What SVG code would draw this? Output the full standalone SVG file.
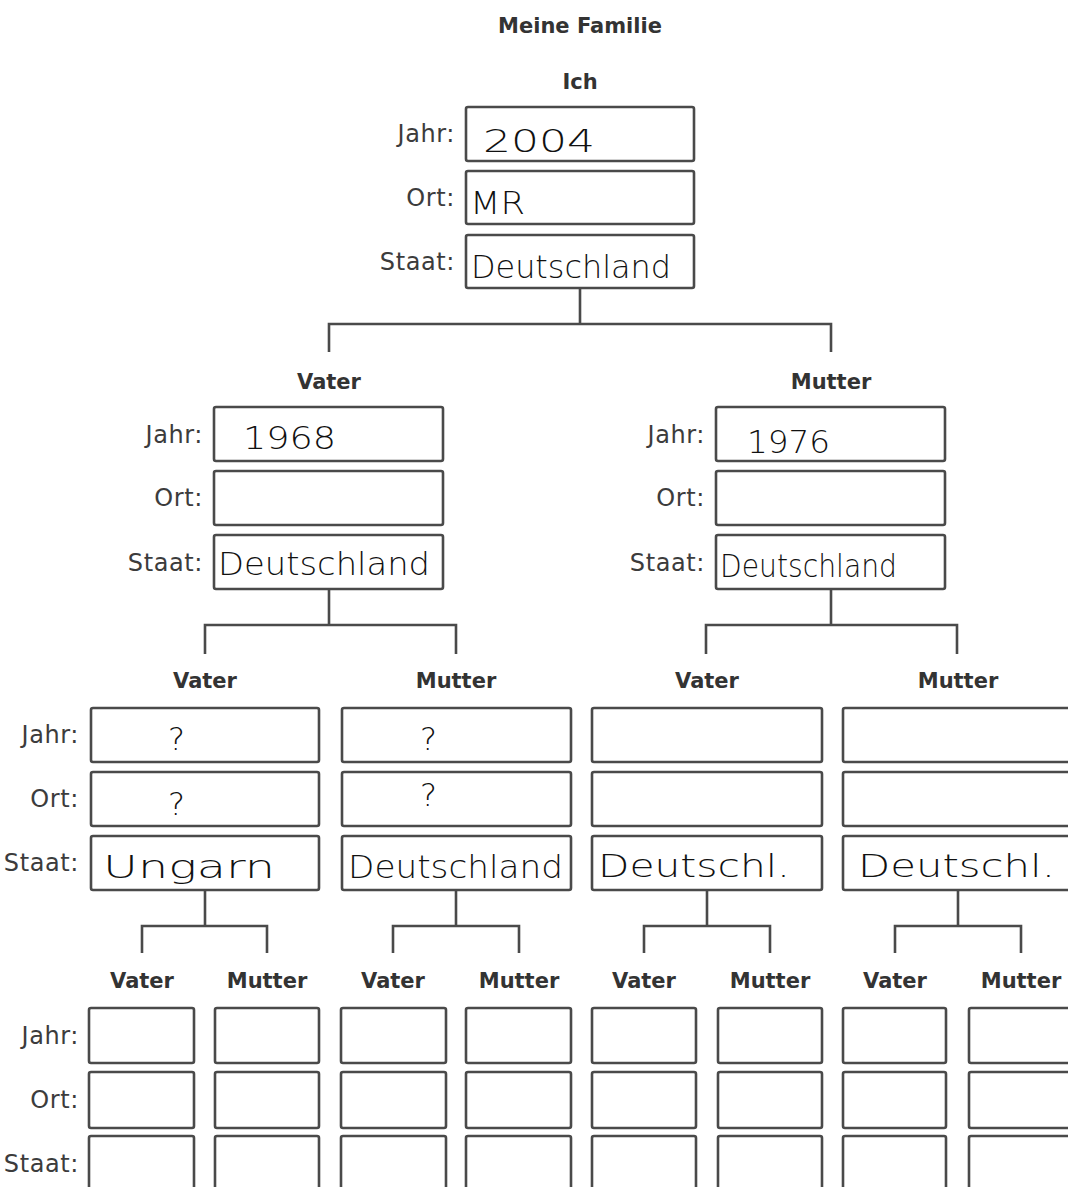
<svg xmlns="http://www.w3.org/2000/svg" width="1068" height="1187" viewBox="0 0 1068 1187">
<style>
.bx{fill:#fff;stroke:#4a4a4a;stroke-width:2.6}
.t{font-family:"DejaVu Sans","Liberation Sans",sans-serif;font-weight:bold;font-size:21px;fill:#333;text-anchor:middle}
.l{font-family:"DejaVu Sans","Liberation Sans",sans-serif;font-size:24px;letter-spacing:0.6px;fill:#3c3c3c;text-anchor:end}
.h{font-family:"DejaVu Sans","Liberation Sans",sans-serif;font-weight:200;font-size:32px;fill:#111}
.c{fill:none;stroke:#4a4a4a;stroke-width:2.6}
</style>
<rect width="1068" height="1187" fill="#fff"/>
<text class="t" x="580" y="33">Meine Familie</text>

<g id="connectors">
<path class="c" d="M580 288V324M329 352V324H831V352"/>
<path class="c" d="M329 589V625M205 654V625H456V654"/>
<path class="c" d="M831 589V625M706 654V625H957V654"/>
<path class="c" d="M205 890V926M142 953V926H267V953"/>
<path class="c" d="M456 890V926M393 953V926H519V953"/>
<path class="c" d="M707 890V926M644 953V926H770V953"/>
<path class="c" d="M958 890V926M895 953V926H1021V953"/>
</g>

<g id="ich">
<text class="t" x="580" y="89">Ich</text>
<text class="l" x="455" y="142">Jahr:</text>
<text class="l" x="455" y="206">Ort:</text>
<text class="l" x="455" y="270">Staat:</text>
<rect class="bx" x="466" y="107" width="228" height="54" rx="2"/>
<rect class="bx" x="466" y="171" width="228" height="53" rx="2"/>
<rect class="bx" x="466" y="235" width="228" height="53" rx="2"/>
<text class="h" x="483" y="152" textLength="112" lengthAdjust="spacingAndGlyphs" font-size="38">2004</text>
<text class="h" x="470" y="214" textLength="55" lengthAdjust="spacingAndGlyphs">MR</text>
<text class="h" x="471" y="278" textLength="200" lengthAdjust="spacingAndGlyphs">Deutschland</text>
</g>

<g id="vater">
<text class="t" x="329" y="389">Vater</text>
<text class="l" x="203" y="443">Jahr:</text>
<text class="l" x="203" y="506">Ort:</text>
<text class="l" x="203" y="571">Staat:</text>
<rect class="bx" x="214" y="407" width="229" height="54" rx="2"/>
<rect class="bx" x="214" y="471" width="229" height="54" rx="2"/>
<rect class="bx" x="214" y="535" width="229" height="54" rx="2"/>
<text class="h" x="243" y="449" textLength="93" lengthAdjust="spacingAndGlyphs">1968</text>
<text class="h" x="218" y="575" textLength="212" lengthAdjust="spacingAndGlyphs">Deutschland</text>
</g>

<g id="mutter">
<text class="t" x="831" y="389">Mutter</text>
<text class="l" x="705" y="443">Jahr:</text>
<text class="l" x="705" y="506">Ort:</text>
<text class="l" x="705" y="571">Staat:</text>
<rect class="bx" x="716" y="407" width="229" height="54" rx="2"/>
<rect class="bx" x="716" y="471" width="229" height="54" rx="2"/>
<rect class="bx" x="716" y="535" width="229" height="54" rx="2"/>
<text class="h" x="747" y="453" textLength="83" lengthAdjust="spacingAndGlyphs">1976</text>
<text class="h" x="720" y="577" textLength="177" lengthAdjust="spacingAndGlyphs">Deutschland</text>
</g>

<g id="labels-l2">
<text class="l" x="79" y="743">Jahr:</text>
<text class="l" x="79" y="807">Ort:</text>
<text class="l" x="79" y="871">Staat:</text>
</g>

<g id="vater-vater">
<text class="t" x="205" y="688">Vater</text>
<rect class="bx" x="91" y="708" width="228" height="54" rx="2"/>
<rect class="bx" x="91" y="772" width="228" height="54" rx="2"/>
<rect class="bx" x="91" y="836" width="228" height="54" rx="2"/>
<text class="h" x="168" y="750">?</text>
<text class="h" x="168" y="815">?</text>
<text class="h" x="103" y="878" textLength="172" lengthAdjust="spacingAndGlyphs">Ungarn</text>
</g>

<g id="vater-mutter">
<text class="t" x="456" y="688">Mutter</text>
<rect class="bx" x="342" y="708" width="229" height="54" rx="2"/>
<rect class="bx" x="342" y="772" width="229" height="54" rx="2"/>
<rect class="bx" x="342" y="836" width="229" height="54" rx="2"/>
<text class="h" x="420" y="750">?</text>
<text class="h" x="420" y="806">?</text>
<text class="h" x="348" y="878" textLength="215" lengthAdjust="spacingAndGlyphs">Deutschland</text>
</g>

<g id="mutter-vater">
<text class="t" x="707" y="688">Vater</text>
<rect class="bx" x="592" y="708" width="230" height="54" rx="2"/>
<rect class="bx" x="592" y="772" width="230" height="54" rx="2"/>
<rect class="bx" x="592" y="836" width="230" height="54" rx="2"/>
<text class="h" x="598" y="877" textLength="192" lengthAdjust="spacingAndGlyphs">Deutschl.</text>
</g>

<g id="mutter-mutter">
<text class="t" x="958" y="688">Mutter</text>
<rect class="bx" x="843" y="708" width="229" height="54" rx="2"/>
<rect class="bx" x="843" y="772" width="229" height="54" rx="2"/>
<rect class="bx" x="843" y="836" width="229" height="54" rx="2"/>
<text class="h" x="858" y="877" textLength="197" lengthAdjust="spacingAndGlyphs">Deutschl.</text>
</g>

<g id="labels-l3">
<text class="l" x="79" y="1044">Jahr:</text>
<text class="l" x="79" y="1108">Ort:</text>
<text class="l" x="79" y="1172">Staat:</text>
</g>

<g id="vvv"><text class="t" x="142" y="988">Vater</text>
<rect class="bx" x="89" y="1008" width="105" height="55" rx="2"/><rect class="bx" x="89" y="1072" width="105" height="56" rx="2"/><rect class="bx" x="89" y="1136" width="105" height="60" rx="2"/></g>
<g id="vvm"><text class="t" x="267" y="988">Mutter</text>
<rect class="bx" x="215" y="1008" width="104" height="55" rx="2"/><rect class="bx" x="215" y="1072" width="104" height="56" rx="2"/><rect class="bx" x="215" y="1136" width="104" height="60" rx="2"/></g>
<g id="vmv"><text class="t" x="393" y="988">Vater</text>
<rect class="bx" x="341" y="1008" width="105" height="55" rx="2"/><rect class="bx" x="341" y="1072" width="105" height="56" rx="2"/><rect class="bx" x="341" y="1136" width="105" height="60" rx="2"/></g>
<g id="vmm"><text class="t" x="519" y="988">Mutter</text>
<rect class="bx" x="466" y="1008" width="105" height="55" rx="2"/><rect class="bx" x="466" y="1072" width="105" height="56" rx="2"/><rect class="bx" x="466" y="1136" width="105" height="60" rx="2"/></g>
<g id="mvv"><text class="t" x="644" y="988">Vater</text>
<rect class="bx" x="592" y="1008" width="104" height="55" rx="2"/><rect class="bx" x="592" y="1072" width="104" height="56" rx="2"/><rect class="bx" x="592" y="1136" width="104" height="60" rx="2"/></g>
<g id="mvm"><text class="t" x="770" y="988">Mutter</text>
<rect class="bx" x="718" y="1008" width="104" height="55" rx="2"/><rect class="bx" x="718" y="1072" width="104" height="56" rx="2"/><rect class="bx" x="718" y="1136" width="104" height="60" rx="2"/></g>
<g id="mmv"><text class="t" x="895" y="988">Vater</text>
<rect class="bx" x="843" y="1008" width="103" height="55" rx="2"/><rect class="bx" x="843" y="1072" width="103" height="56" rx="2"/><rect class="bx" x="843" y="1136" width="103" height="60" rx="2"/></g>
<g id="mmm"><text class="t" x="1021" y="988">Mutter</text>
<rect class="bx" x="969" y="1008" width="105" height="55" rx="2"/><rect class="bx" x="969" y="1072" width="105" height="56" rx="2"/><rect class="bx" x="969" y="1136" width="105" height="60" rx="2"/></g>
</svg>
